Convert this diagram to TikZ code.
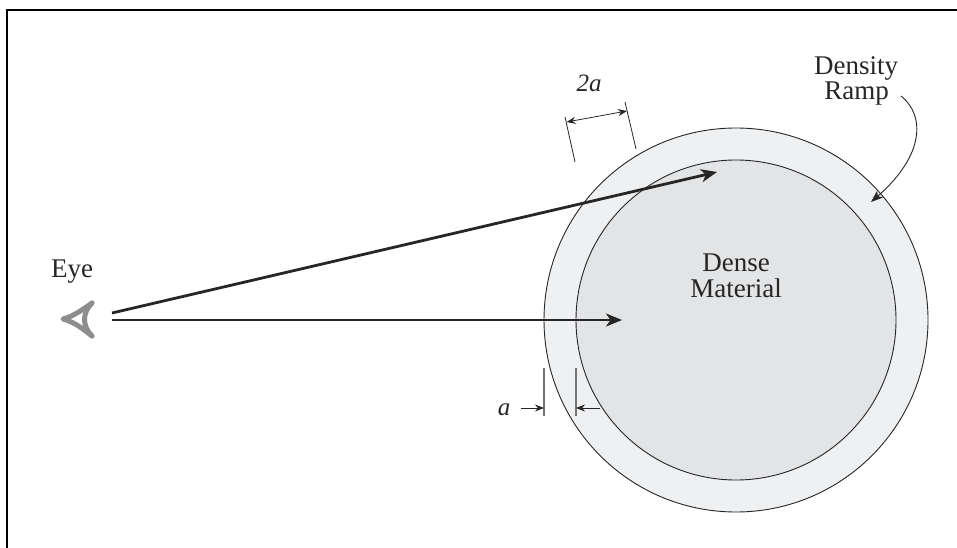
\documentclass[tikz,border=0pt]{standalone}
\usepackage{fontspec}
\setmainfont{Liberation Serif}
\usepackage{tikz}
\usetikzlibrary{arrows.meta}
\definecolor{ramp}{HTML}{EFF0F2}
\definecolor{dense}{HTML}{E3E4E6}
\definecolor{eyegray}{HTML}{8C8D8F}
\definecolor{ink}{HTML}{262626}
\tikzset{
  lbl/.style={font=\fontsize{27}{29}\selectfont, align=center, text=ink, inner sep=0pt, anchor=base},
  ital/.style={lbl, font=\fontsize{25}{27}\selectfont\itshape},
  ray/.style={line width=2.8pt, draw=ink, -{Stealth[length=16pt, width=13pt, inset=4.5pt]}},
  tick/.style={line width=0.8pt, draw=ink},
  graytick/.style={line width=1.2pt, draw=black!55},
  dimboth/.style={line width=0.8pt, draw=ink, {Stealth[length=9pt, width=7pt]}-{Stealth[length=9pt, width=7pt]}},
  dimto/.style={line width=0.8pt, draw=ink, -{Stealth[length=9pt, width=7pt]}},
  shell/.style={line width=0.9pt, draw=ink},
}

\begin{document}
\begin{tikzpicture}[x=1pt, y=-1pt]
  \useasboundingbox (0,0) rectangle (957,548);
  % frame, only two sides show
  \draw[line width=2pt] (7,548) -- (7,10) -- (957,10);

  % sphere
  \coordinate (c) at (736,320);
  \draw[shell, fill=ramp] (c) circle (192pt);
  \draw[shell, fill=dense] (c) circle (160pt);

  % eye
  \draw[eyegray, line width=5pt, line cap=round, line join=round]
    (92,303) .. controls (82,310) and (74,316) .. (63,319) .. controls (74,322) and (82,328) .. (92,336);
  \draw[eyegray, line width=5pt, line cap=round]
    (92,303) .. controls (82,313) and (82,326) .. (92,336);
  \node[lbl] (eye) at (72,277) {Eye};

  % view rays
  \coordinate (ray1s) at (112,313);
  \coordinate (ray1e) at (717,172);
  \coordinate (ray2s) at (112,320);
  \coordinate (ray2e) at (622,320);
  \draw[ray] (ray1s) -- (ray1e);
  \draw[ray] (ray2s) -- (ray2e);

  % 2a
  \coordinate (t1a) at (565,117);
  \coordinate (t1b) at (575,162);
  \coordinate (t2a) at (625,102);
  \coordinate (t2b) at (636,149);
  \coordinate (d1) at (566.5,122);
  \coordinate (d2) at (627,111);
  \draw[tick] (t1a) -- (t1b);
  \draw[tick] (t2a) -- (t2b);
  \draw[dimboth] (d1) -- (d2);
  \node[ital] (twoa) at (589,92) {2a};

  % a
  \coordinate (t3a) at (544,368);
  \coordinate (t3b) at (544,416);
  \coordinate (t4a) at (576,368);
  \coordinate (t4b) at (576,416);
  \coordinate (a1) at (521,408);
  \coordinate (a2) at (544,408);
  \coordinate (a3) at (600,408);
  \coordinate (a4) at (576,408);
  \draw[graytick] (t3a) -- (t3b);
  \draw[graytick] (t4a) -- (t4b);
  \draw[dimto] (a1) -- (a2);
  \draw[dimto] (a3) -- (a4);
  \node[ital] (a) at (504,415) {a};

  % labels
  \node[lbl] (dm) at (736,271) {Dense};
  \node[lbl] (mat) at (736,297) {Material};
  \node[lbl] (den) at (856,75) {Density};
  \node[lbl] (rmp) at (856.5,100) {Ramp};

  % ramp pointer
  \coordinate (p1) at (901,96);
  \coordinate (p2) at (871,202);
  \draw[shell, -{Stealth[length=12pt, width=9pt, inset=3pt]}]
    (p1) .. controls (925,115) and (925,155) .. (p2);
\end{tikzpicture}
\end{document}
